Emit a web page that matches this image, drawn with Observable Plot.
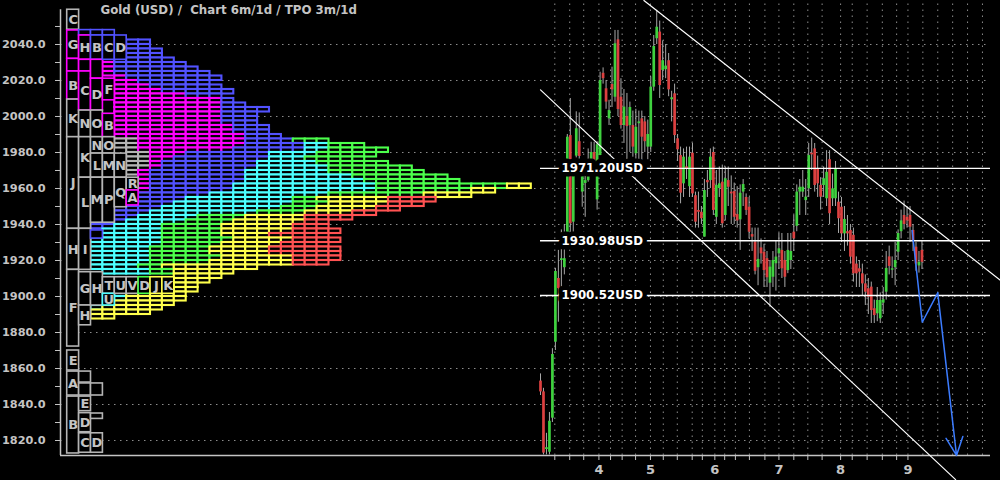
<!DOCTYPE html>
<html><head><meta charset="utf-8">
<script src="https://cdn.jsdelivr.net/npm/d3@7"></script>
<script src="https://cdn.jsdelivr.net/npm/@observablehq/plot@0.6"></script>
<style>
html,body{margin:0;padding:0;background:#000;}
#chart{position:relative;width:1000px;height:480px;background:#000;overflow:hidden}
#chart svg{position:absolute;left:0;top:0}
</style></head><body><div id="chart"></div>
<script>
const title = "Gold (USD) /\u00a0 Chart 6m/1d / TPO 3m/1d";
const priceMin = 1811.67, priceMax = 2064.44, axisTop = 2059.3;
const priceTicks = d3.range(1820, 2051, 10);
const gridPrices = d3.range(1820, 2041, 20);
const monthTicks = [19.6, 36.9, 58.5, 80, 100.7, 123.3];
const monthLabels = ["4", "5", "6", "7", "8", "9"];
const weekTicks = [4.8, 9.8, 14.5, 19.6, 23.5, 27.4, 31.9, 36.9, 41.2, 45.9, 50.9, 54.3, 58.5, 61.8, 65.4, 70.1, 75.3, 80, 85, 89.7, 94.5, 100.7, 104.6, 109.6, 114.7, 119.5, 123.3];
const weekGridExtra = [128.3, 133.3, 138.3, 143.3, 148.3];
const levels = [1971.20, 1930.98, 1900.52];
const trendUpper = [{i: 34.7, p: 2064.4}, {i: 154.4, p: 1908.9}];
const trendLower = [{i: 0, p: 2014.8}, {i: 139.3, p: 1798.3}];
const projection = [{i: 124.7, p: 1936.7}, {i: 128.1, p: 1885.7}, {i: 133.3, p: 1902.0}];
const projectionEnd = {i: 139.6, p: 1811.7};

// daily candles: [open, high, low, close]
const candles = [
[1853,1857,1845,1847],[1847,1849,1812,1813],[1815,1824,1812,1816],[1813.5,1835.6,1812,1830.7],
[1832.4,1871,1830,1867.8],[1874.6,1915.6,1870,1913.9],[1910,1925.6,1885.7,1904.4],[1920,1937,1900,1921],
[1916,1940,1912,1921],[1935,1990,1933,1988.5],[1989.4,2010,1935.7,1940.4],[1941.3,1972,1935.7,1966.8],
[1978,2002.6,1977,1993.2],[1986,2002,1976,1977.8],[1958,1970,1949.6,1966.8],[1962.8,1972,1944,1964.4],
[1964.4,1982,1963.5,1966.8],[1974.6,1985.7,1973,1980],[1980,1985.7,1972,1974.6],[1953.7,1986,1948,1984.3],
[1978.3,2024.6,1978.3,2020],[2024,2027,2018,2021],[2015.4,2020,2004,2008],[1998.7,2009,1995,2003.3],
[2017.8,2027.4,2005,2014.8],[2010.7,2047.8,2008,2040.4],[2042.6,2047.8,2000,2003.9],[2010.7,2021,1993,1995],
[1995,2015,1985,2005.2],[2000,2012.8,1975.6,1994.4],[1995,2008,1980,2005],[1995,2003,1977.4,1983],
[1979.3,2004,1972,1994],[1996,2003,1975,1997],[1998.7,2003,1975,1988.5],[1997,2000,1980,1986],
[1983,1998,1976,1990],[1983,2022,1980,2016.3],[2016.3,2045,2014,2038.9],[2043.2,2059,2040,2049.6],
[2046.9,2053,2010,2017.2],[2025.6,2042,2020,2031],[2026,2040,2021,2028],[2031,2035,2011,2014.8],
[2009.3,2014,1997,2010.4],[2012.6,2018,1985,1989.4],[1987.6,1990,1975,1981.5],[1978.3,1983,1951.5,1957.4],
[1962.6,1982,1955,1977.4],[1972,1983,1965,1971],[1961,1983,1955,1977.4],[1979.6,1985,1955,1957],
[1956,1958,1938,1941.3],[1947.8,1958,1938,1946.8],[1946.8,1950,1940,1943.2],[1933,1965,1933,1958.9],
[1964.4,1970,1955,1963.2],[1964.4,1982,1960,1977.4],[1980,1983,1945,1947.8],[1944,1970,1940,1961.7],
[1960,1972,1955,1962.6],[1963.5,1973,1938,1940.4],[1945,1972,1942,1965.4],[1964.4,1972,1950,1960.7],
[1958,1967,1940,1957],[1958.3,1963,1940,1944],[1945.5,1961,1938,1942],[1942.6,1962,1925.6,1957.4],
[1958,1965,1950,1962.2],[1955,1957,1945,1947.8],[1949.6,1955,1932,1935.7],[1934.4,1938,1925,1933],
[1930.2,1938,1912,1914],[1916,1938,1906,1920.6],[1927,1932,1918,1923.7],[1924.6,1929,1905,1914.4],
[1921,1925,1905,1910.4],[1907.4,1920,1894,1916.3],[1910.7,1925,1905,1920],[1918.2,1931,1903,1921.9],
[1923.7,1935,1915,1926.5],[1925.6,1935,1910,1915.4],[1920,1925,1905,1910.7],[1914.4,1935,1912.7,1925.6],
[1920,1935,1915,1925],[1935.7,1945,1925,1932],[1939,1962,1936,1958],[1958,1965,1945,1960.7],
[1958,1970,1955,1960.7],[1953.3,1965,1945,1955.2],[1959.8,1985,1955,1978.3],[1979.6,1988,1970,1978.7],
[1982,1985,1958,1961.7],[1971,1978,1955,1962.6],[1961.7,1966,1948,1955.2],[1961.7,1972,1955,1965.4],
[1954.3,1981,1950,1969],[1976,1981,1940,1946],[1954.3,1968,1950,1959.8],[1954.3,1975,1950,1971],
[1952.4,1958,1935,1943.2],[1949.6,1955,1930,1934.8],[1934.8,1950,1925,1942.8],[1936,1945,1928,1934.8],
[1936.7,1940,1918,1921.9],[1934,1938,1908,1912.6],[1918,1922,1905,1912.6],[1915.4,1920,1905,1913.5],
[1912.6,1918,1900,1907],[1907,1912,1895,1902.4],[1904.3,1910,1890,1899.6],[1905.2,1908,1885,1892.2],
[1893.2,1898,1885,1889.4],[1890.4,1905,1886,1897.8],[1887.6,1902,1885,1897.8],[1896.3,1905,1890,1898.2],
[1902.4,1925,1898,1915.6],[1922,1928,1912,1916.7],[1914.6,1922,1910,1915.4],[1916,1930,1906,1920],
[1924.6,1937,1920,1935],[1936,1948,1932,1942],[1945,1953,1937,1940],[1944,1950,1938,1942],
[1945,1950,1930,1938.5],[1936.7,1940,1925,1931],[1927.4,1930,1914,1918],[1917,1925,1913,1919],
[1925.6,1931,1915,1919]
];

// TPO letter boxes: [column, low, high, letter, colour key]
const letterBoxes = [
[0,2048.2,2059.3,"C","k"],[0,2032,2047.8,"G","m"],[0,2025,2032,"","m"],[0,2009.4,2025,"B","m"],
[0,1988.5,2009.4,"K","k"],[0,1937.6,1988.5,"J","k"],[0,1914.8,1937.6,"H","k"],[0,1872.2,1914.8,"F","k"],
[0,1858.9,1870,"E","k"],[0,1845,1858.3,"A","k"],[0,1812.8,1844.4,"B","k"],
[1,2045,2048,"","b"],[1,2031.5,2045,"H","m"],[1,2025,2031.5,"","m"],[1,2003.3,2025,"C","m"],
[1,1988.5,2003.3,"N","k"],[1,1966,1988.5,"K","k"],[1,1937.6,1966,"L","k"],[1,1914.8,1937.6,"I","k"],
[1,1895,1913.5,"G","k"],[1,1884,1895,"H","k"],[1,1852.2,1858.3,"","k"],[1,1845,1851.7,"","k"],
[1,1836.3,1844.4,"E","k"],[1,1824.6,1835.2,"D","k"],[1,1813.2,1824,"C","k"],
[2,2045,2048,"","b"],[2,2031.5,2045,"B","b"],[2,2021,2031.5,"","m"],[2,2003.3,2021,"D","m"],
[2,1988.5,2003.3,"O","k"],[2,1979.4,1988.5,"N","k"],[2,1966,1979.4,"L","k"],[2,1941,1966,"M","k"],
[2,1932.2,1936.7,"","b"],[2,1895,1913.5,"H","k"],[2,1845,1851.7,"","k"],[2,1832,1835,"","k"],
[2,1813.2,1824,"D","k"],
[3,2045,2048,"","b"],[3,2031.5,2045,"C","b"],[3,2009,2021,"F","m"],[3,1988.5,2001.5,"B","m"],
[3,1979.4,1988.5,"O","k"],[3,1966,1979.4,"M","k"],[3,1941,1966,"P","k"],[3,1901.5,1910.7,"T","k"],
[3,1895,1901.5,"U","c"],
[4,2031.5,2045,"D","b"],[4,1966,1979.4,"N","k"],[4,1949.6,1966,"Q","k"],[4,1901.5,1910.7,"U","k"],
[5,1958.9,1966,"R","k"],[5,1950.6,1958.9,"A","m"],[5,1901.5,1910.7,"V","k"],
[6,1901.5,1910.7,"D","g"],[7,1901.5,1910.7,"J","y"],[8,1901.5,1910.7,"K","y"]
];

// TPO thin rows: [row low price (2.5 tall), first column, colour runs]
const tpoRows = [
[2040,5,"b2"],[2037.5,5,"b2"],[2035,5,"b3"],[2032.5,5,"b3"],[2030,3,"m1 b5"],[2027.5,3,"m1 b6"],
[2025,3,"m1 b7"],[2022.5,3,"m1 b8"],[2020,4,"m1 b8"],[2017.5,4,"m2 b6"],[2015,4,"m3 b6"],
[2012.5,4,"m4 b6"],[2010,4,"m6 b3"],[2007.5,4,"m9 b1"],[2005,4,"m9 b2"],[2002.5,4,"m9 b4"],
[2000,4,"m9 b3"],[1997.5,4,"m9 b3"],[1995,4,"m9 b3"],[1992.5,4,"m10 b3"],[1990,4,"m10 b3"],
[1987.5,4,"m11 b3"],[1985,4,"k2 m9 b4 g3"],[1982.5,4,"k2 m9 b5 c2 g3"],[1980,5,"k1 m8 b6 c2 g5"],
[1977.5,5,"k2 m3 b7 c4 g5"],[1975,5,"k2 m2 b8 c3 g5"],[1972.5,5,"k2 m1 b8 c5 g6"],
[1970,5,"k2 m1 b8 c6 g7"],[1967.5,5,"k1 m1 b8 c7 g8"],[1965,6,"m1 b8 c9 g8"],[1962.5,6,"m1 b8 c10 g8"],
[1960,6,"m1 b7 c12 g11 y2"],[1957.5,6,"m1 b7 c12 g8 y2"],[1955,6,"b6 c10 g8 y4"],
[1952.5,6,"b4 c9 g2 y6 r4"],[1950,5,"b4 c10 g3 y5 r3"],[1947.5,4,"b4 c10 g3 y5 r2"],
[1945,4,"b3 c9 g4 y4 r2"],[1942.5,4,"b2 c5 g4 y5 r4"],[1940,3,"b2 c5 g4 y6 r2"],
[1937.5,2,"b2 c4 g5 y6 r3"],[1935,2,"b1 c5 g5 y6 r4"],[1932.5,2,"b1 c5 g5 y4 r5"],
[1930,2,"c6 g6 y5 r4"],[1927.5,2,"c6 g5 y5 r4"],[1925,2,"c5 g5 y5 r6"],[1922.5,2,"c5 g5 y5 r6"],
[1920,2,"c5 g6 y6 r4"],[1917.5,2,"c5 g5 y7 r3"],[1915,2,"c4 g2 y8"],[1912.5,3,"c4 g2 y5"],
[1910,9,"y4"],[1907.5,9,"y3"],[1905,9,"y2"],[1902.5,9,"y2"],[1900,4,"c1 y5"],[1897.5,4,"c1 y5"],
[1895,4,"y5"],[1892.5,2,"c1 y5"],[1890,2,"y5"],[1887.5,2,"y2"]
];

const palette = {k: "#b4b4b4", m: "#ff00ff", b: "#5252ff", g: "#4cff4c", c: "#4cffff", y: "#ffff4c", r: "#ff5252"};
const textGray = "#c4c4c4";

const rowBoxes = tpoRows.flatMap(([p, start, runs]) => {
  const out = []; let col = start;
  for (const run of runs.split(" ")) {
    const key = run[0], n = +run.slice(1);
    for (let j = 0; j < n; j++) out.push({c: col++, lo: p, hi: p + 2.5, color: palette[key]});
  }
  return out;
});
const letters = letterBoxes.map(([c, lo, hi, t, k]) => ({c, lo, hi, t, color: palette[k]}));
const candleData = candles.map(([o, h, l, c], i) => ({i, o, h, l, c, up: c >= o}));

const colMin = (60 - 66.7) / 11.9, colMax = (990 - 66.7) / 11.9;
const font = {fontFamily: "DejaVu Sans", fontWeight: "bold"};

const left = Plot.plot({
  width: 1000, height: 480, marginLeft: 60, marginRight: 10, marginTop: 0, marginBottom: 25,
  style: {background: "transparent", color: textGray, fontFamily: "DejaVu Sans", fontWeight: "bold", fontSize: "12px"},
  x: {domain: [colMin, colMax], axis: null},
  y: {domain: [priceMin, priceMax], axis: null},
  color: {type: "identity"},
  marks: [
    Plot.ruleY(gridPrices, {stroke: "#8c8c8c", strokeDasharray: "1.5,4.5"}),
    Plot.rect(rowBoxes, {x1: "c", x2: d => d.c + 1, y1: "lo", y2: "hi", fill: "black", stroke: "color", strokeWidth: 2.1}),
    Plot.rect(letters, {x1: "c", x2: d => d.c + 1, y1: "lo", y2: "hi", fill: "black", stroke: "color", strokeWidth: 1.6}),
    Plot.text(letters, {x: d => d.c + 0.5, y: d => (d.lo + d.hi) / 2, text: "t", fill: textGray, fontSize: 13, ...font}),
    Plot.axisY({ticks: priceTicks, tickSize: 5, tickPadding: 10, tickFormat: d => d % 20 === 0 ? d.toFixed(1) : "", fontSize: 11.3, ...font}),
    Plot.ruleX([colMin], {y1: priceMin, y2: axisTop, stroke: textGray, strokeWidth: 1.5}),
    Plot.ruleY([priceMin], {stroke: textGray, strokeWidth: 1.5}),
    Plot.text([title], {frameAnchor: "top-left", dx: 40, dy: 10, lineAnchor: "middle", textAnchor: "start", fill: textGray, fontSize: 11.8, ...font})
  ]
});

const right = Plot.plot({
  width: 1000, height: 480, marginLeft: 540, marginRight: 10, marginTop: 0, marginBottom: 25,
  style: {background: "transparent", color: textGray, fontFamily: "DejaVu Sans", fontWeight: "bold", fontSize: "12px", overflow: "visible"},
  x: {domain: [0, 151], axis: null},
  y: {domain: [priceMin, priceMax], axis: null},
  marks: [
    Plot.ruleX(weekTicks.concat(weekGridExtra), {y1: priceMin, y2: priceMax, stroke: "#8c8c8c", strokeDasharray: "1.5,4.5"}),
    Plot.axisX(weekTicks, {label: null, tickSize: 5, tickPadding: 4, tickFormat: d => { const k = monthTicks.indexOf(d); return k < 0 ? "" : monthLabels[k]; }, fontSize: 13, ...font}),
    Plot.ruleX(candleData, {x: "i", y1: "l", y2: "h", stroke: "#a8a8a8", strokeWidth: 1}),
    Plot.ruleX(candleData, {x: "i", y1: "o", y2: "c", stroke: d => d.up ? "#3fd23f" : "#dc4040", strokeWidth: 2.7}),
    Plot.line(trendUpper, {x: "i", y: "p", stroke: "white", strokeWidth: 1.2}),
    Plot.line(trendLower, {x: "i", y: "p", stroke: "white", strokeWidth: 1.2}),
    Plot.ruleY(levels, {x1: 0, x2: 151, stroke: "white", strokeWidth: 1.4}),
    Plot.text(levels, {x: 0, y: d => d, dx: 21, text: d => d.toFixed(2) + "USD", textAnchor: "start", fill: "white", stroke: "black", strokeWidth: 9, fontSize: 11.8, ...font}),
    Plot.line(projection, {x: "i", y: "p", stroke: "#3c7cff", strokeWidth: 1.5}),
    Plot.arrow([projectionEnd], {x1: projection[2].i, y1: projection[2].p, x2: "i", y2: "p", stroke: "#3c7cff", strokeWidth: 1.5, headLength: 20, headAngle: 50})
  ]
});

const host = document.getElementById("chart");
host.appendChild(left);
host.appendChild(right);
</script></body></html>
